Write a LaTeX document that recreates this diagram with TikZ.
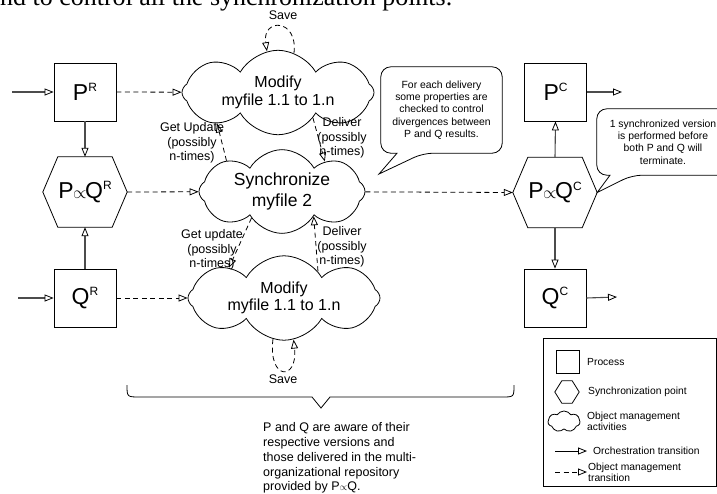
\documentclass[tikz,border=0pt]{standalone}
\usepackage{graphicx}
\usepackage{fontspec}
\setmainfont{Liberation Sans}
\newfontfamily\serifface{Liberation Serif}
\usetikzlibrary{arrows.meta,shapes.symbols}
\begin{document}
\begin{tikzpicture}[x=1pt,y=-1pt,
  tri/.style={-{Triangle[open,length=9pt,width=7pt,line width=0.8pt,color=black]}},
  orch/.style={tri, line width=1.1pt, draw=black!70},
  objm/.style={tri, line width=0.8pt, dash pattern=on 5pt off 3.5pt},
  procbox/.style={draw, line width=0.8pt, minimum width=62pt, minimum height=58pt, inner sep=0pt},
  hexbox/.style={minimum width=84pt, minimum height=70pt, inner sep=0pt},
  hexline/.style={line width=0.8pt},
  cloudbox/.style={cloud, draw, line width=0.8pt, cloud puffs=8, cloud puff arc=120, aspect=3, inner sep=0pt, align=center},
  lbl/.style={font=\fontsize{12.5}{14.3}\selectfont, align=center, inner sep=0pt},
  calltext/.style={font=\fontsize{10.4}{12.3}\selectfont, align=center, inner sep=0pt},
  legtext/.style={font=\fontsize{10.3}{11}\selectfont, align=left, inner sep=0pt, anchor=west},
  bigP/.style={font=\fontsize{23}{26}\selectfont}
]
\clip (0,0) rectangle (717,493);
\useasboundingbox (0,0) rectangle (717,493);

% clipped body text at top
\node[anchor=base west, inner sep=0pt] (toptext) at (0,5) {\resizebox{452pt}{!}{\serifface\fontsize{26pt}{30pt}\selectfont nd to control all the synchronization points.}};

% processes
\node[procbox, bigP] (PR) at (85,92) {P\raisebox{8.5pt}{\fontsize{12}{12}\selectfont R}};
\node[procbox, bigP] (QR) at (85,298) {Q\raisebox{8.5pt}{\fontsize{12}{12}\selectfont R}};
\node[procbox, bigP] (PC) at (555.5,92) {P\raisebox{8.5pt}{\fontsize{12}{12}\selectfont C}};
\node[procbox, bigP] (QC) at (555,298) {Q\raisebox{8.5pt}{\fontsize{12}{12}\selectfont C}};

% synchronization points
\node[hexbox, bigP] (HR) at (85,192) {P\kern-0.5pt{\fontsize{16}{16}\selectfont$\propto$}\kern-1.5pt Q\raisebox{8.5pt}{\fontsize{12}{12}\selectfont R}};
\draw[hexline] (HR.west) -- ([xshift=15pt]HR.north west) -- ([xshift=-15pt]HR.north east) -- (HR.east) -- ([xshift=-15pt]HR.south east) -- ([xshift=15pt]HR.south west) -- cycle;
\node[hexbox, bigP] (HC) at (555,192.5) {P\kern-0.5pt{\fontsize{16}{16}\selectfont$\propto$}\kern-1.5pt Q\raisebox{8.5pt}{\fontsize{12}{12}\selectfont C}};
\draw[hexline] (HC.west) -- ([xshift=15pt]HC.north west) -- ([xshift=-15pt]HC.north east) -- (HC.east) -- ([xshift=-15pt]HC.south east) -- ([xshift=15pt]HC.south west) -- cycle;

% clouds
\node[cloudbox, minimum width=192pt, minimum height=62pt, font=\fontsize{16}{17.5}\selectfont] (C1) at (278,92.5) {Modify\\myfile 1.1 to 1.n};
\node[cloudbox, minimum width=166pt, minimum height=57pt, font=\fontsize{17.5}{21}\selectfont] (C2) at (282,191.5) {Synchronize\\myfile 2};
\node[cloudbox, minimum width=192pt, minimum height=60pt, font=\fontsize{16}{17.5}\selectfont] (C3) at (284,298) {Modify\\myfile 1.1 to 1.n};

% orchestration transitions
\coordinate (inPR) at (12,92);
\coordinate (inQR) at (18,298);
\coordinate (outPC) at (622,92);
\coordinate (outQC) at (617,297);
\draw[orch] (inPR) -- (PR.west);
\draw[orch] (inQR) -- (QR.west);
\draw[orch] (PR.south) -- (HR.north);
\draw[orch] (QR.north) -- (HR.south);
\draw[orch] (HC.north) -- (PC.south);
\draw[orch] (HC.south) -- (QC.north);
\draw[orch] (PC.east) -- (outPC);
\draw[orch] (QC.east) -- (outQC);

% object management transitions
\draw[objm] (PR.east) -- (C1);
\draw[objm] (HR.east) -- (C2);
\draw[objm] (QR.east) -- (C3);
\draw[objm] (C2) -- (HC.west);
\draw[objm] (C2.151) -- (C1.207);
\draw[objm] (C1.324) -- (C2.35);
\draw[objm] (C2.221) -- (C3.151);
\draw[objm] (C3.38) -- (C2.322);
\draw[objm] (C1.68) .. controls (298,18) and (262,18) .. (C1.105);
\draw[objm] (C3.255) .. controls (268,381) and (298,381) .. (C3.283);

% labels
\node[lbl] (save1) at (283,15.5) {Save};
\node[lbl] (save2) at (283,379) {Save};
\node[lbl] (gu1) at (192,143) {Get Update\\(possibly\\n-times)};
\node[lbl] (dl1) at (342,138) {Deliver\\(possibly\\n-times)};
\node[lbl] (gu2) at (212,250) {Get update\\(possibly\\n-times)};
\node[lbl] (dl2) at (342,247) {Deliver\\(possibly\\n-times)};

% callouts
\node[calltext, minimum width=121pt, minimum height=86pt] (N1) at (441.5,110) {For each delivery\\some properties are\\checked to control\\divergences between\\P and Q results.};
\coordinate (tip1) at (379,174);
\draw[line width=0.8pt, rounded corners=10pt] ([xshift=-44.5pt]N1.south) -- (N1.south west) -- (N1.north west) -- (N1.north east) -- (N1.south east) -- ([xshift=-18.5pt]N1.south) [sharp corners] -- (tip1) -- cycle;

\node[calltext, minimum width=132pt, minimum height=66pt] (N2) at (663,142) {1 synchronized version\\is performed before\\both P and Q will\\terminate.};
\draw[line width=0.8pt, rounded corners=10pt] ([xshift=-53pt]N2.south) -- (N2.south west) -- (N2.north west) -- (N2.north east) -- (N2.south east) -- ([xshift=-31pt]N2.south) [sharp corners] -- (HC.east) -- cycle;

% brace
\draw[line width=0.8pt] (127,385) .. controls (127,397) .. (140,397) -- (312,397) -- (321,408) -- (330,397) -- (502,397) .. controls (514,397) .. (514,385);
\node[anchor=north west, inner sep=0pt, align=left, font=\fontsize{12.5}{14.75}\selectfont] (note) at (263,422.5) {P and Q are aware of their\\respective versions and\\those delivered in the multi-\\organizational repository\\provided by P{\fontsize{10}{10}\selectfont$\propto$}Q.};

% legend
\node[draw, line width=0.8pt, minimum width=173pt, minimum height=148pt, inner sep=0pt] (legend) at (629.5,412) {};
\node[draw, line width=0.8pt, minimum width=23pt, minimum height=23pt, inner sep=0pt] (lgproc) at (567.5,361.5) {};
\node[legtext] (lgproct) at (587,362) {Process};
\node[minimum width=24pt, minimum height=22pt, inner sep=0pt] (lghex) at (567,392) {};
\draw[hexline] (lghex.west) -- ([xshift=7pt]lghex.north west) -- ([xshift=-7pt]lghex.north east) -- (lghex.east) -- ([xshift=-7pt]lghex.south east) -- ([xshift=7pt]lghex.south west) -- cycle;
\node[legtext] (lghext) at (588,392) {Synchronization point};
\node[cloud, draw, line width=0.8pt, cloud puffs=7, cloud puff arc=115, aspect=1.6, minimum width=32pt, minimum height=21pt, inner sep=0pt] (lgcloud) at (564,421.5) {};
\node[legtext] (lgcloudt) at (587,421) {Object management\\activities};
\coordinate (lgo1) at (555,451);
\coordinate (lgo2) at (587,451);
\draw[tri, line width=0.8pt] (lgo1) -- (lgo2);
\node[legtext] (lgorcht) at (593,451) {Orchestration transition};
\coordinate (lgm1) at (555,472);
\coordinate (lgm2) at (587,472);
\draw[objm] (lgm1) -- (lgm2);
\node[legtext] (lgobjt) at (588,472) {Object management\\transition};
\end{tikzpicture}
\end{document}
